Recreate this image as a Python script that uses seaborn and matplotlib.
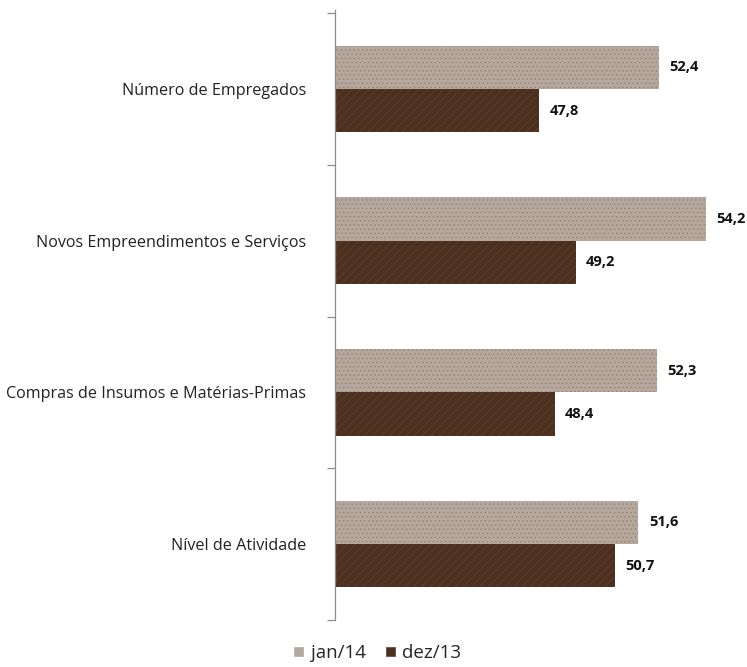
import numpy as np
import pandas as pd
import seaborn as sns
import matplotlib.pyplot as plt

# %% data

categories = ["Número de Empregados", "Novos Empreendimentos e Serviços",
              "Compras de Insumos e Matérias-Primas", "Nível de Atividade"]
series = ["jan/14", "dez/13"]
jan14 = [52.4, 54.2, 52.3, 51.6]
dez13 = [47.8, 49.2, 48.4, 50.7]
labels_jan14 = ["52,4", "54,2", "52,3", "51,6"]
labels_dez13 = ["47,8", "49,2", "48,4", "50,7"]

df = pd.DataFrame({
    "categoria": categories * 2,
    "serie": [series[0]] * 4 + [series[1]] * 4,
    "valor": jan14 + dez13,
})

# %% plot

sns.set_style("white")
plt.rcParams['font.family'] = ['Open Sans', 'DejaVu Sans']
plt.rcParams['hatch.linewidth'] = 0.4

fig = plt.figure(figsize=(7.47, 6.67), dpi=100)
ax = fig.add_axes([0.4485, 0.0705, 0.525, 0.9145])

colors = {"jan/14": "#b5a79b", "dez/13": "#4b2f1f"}
sns.barplot(data=df, y="categoria", x="valor", hue="serie", orient="h",
            palette=colors, width=0.57, ax=ax, legend=False, saturation=1)

# granite-ish speckle on the light bars, wood-ish streaks on the dark ones
for p in ax.patches[:4]:
    p.set_hatch("....")
    p.set_edgecolor("#8c7d72")
    p.set_linewidth(0)
for p in ax.patches[4:8]:
    p.set_edgecolor("#6a4630")
    p.set_hatch("////")
    p.set_linewidth(0)

ax.set_xlim(40, 55)
ax.set_ylim(3.48, -0.52)

for p, txt in zip(ax.patches[:8], labels_jan14 + labels_dez13):
    ax.text(p.get_width() + 0.4, p.get_y() + p.get_height() / 2, txt,
            va="center", ha="left", fontsize=10.5, fontweight="bold", color="#111111")

ax.set_xlabel("")
ax.set_ylabel("")
ax.xaxis.set_visible(False)
for s in ["top", "right", "bottom"]:
    ax.spines[s].set_visible(False)
ax.spines["left"].set_color("#8c8c8c")
ax.spines["left"].set_linewidth(0.9)

ax.tick_params(axis="y", which="major", left=False, length=0, pad=21,
               labelsize=11.6, labelcolor="#222222")
ax.set_yticks(np.arange(-0.5, 4, 1), minor=True)
ax.tick_params(axis="y", which="minor", left=True, length=6, color="#8c8c8c", width=0.9)

handles = [plt.Rectangle((0, 0), 1, 1, facecolor=colors[s]) for s in series]
fig.legend(handles, series, loc="lower center", bbox_to_anchor=(0.505, -0.018), ncol=2,
           frameon=False, fontsize=13.5, handlelength=0.6, handleheight=0.6,
           handletextpad=0.35, columnspacing=1.0)

plt.savefig("out.png", dpi=100)
plt.close()
